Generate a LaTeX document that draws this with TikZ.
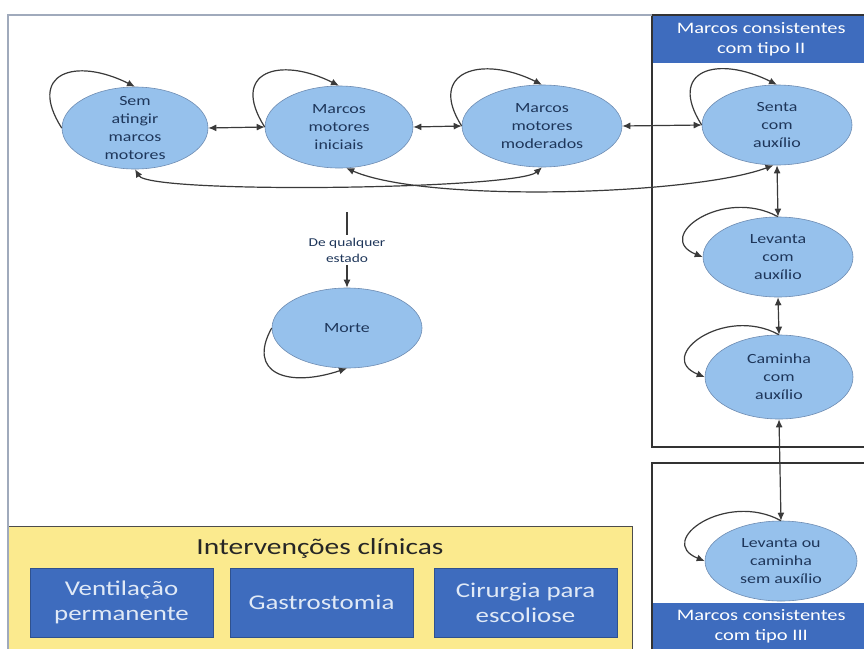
\documentclass[tikz,border=0pt]{standalone}
\usepackage{fontspec}
\setmainfont{Carlito}[FakeStretch=1.28]
\usetikzlibrary{arrows.meta,shapes.geometric}

\definecolor{statefill}{RGB}{150,193,236}
\definecolor{statedraw}{RGB}{110,140,178}
\definecolor{statetext}{RGB}{30,54,90}
\definecolor{panelblue}{RGB}{62,108,190}
\definecolor{boxtext}{RGB}{224,233,246}
\definecolor{intyellow}{RGB}{251,234,142}
\definecolor{framegray}{RGB}{160,170,188}
\definecolor{arrowgray}{RGB}{58,58,58}

\tikzset{
  state/.style={ellipse, draw=statedraw, fill=statefill, line width=0.6pt, inner sep=0pt},
  statelbl/.style={text=statetext, align=center, font=\fontsize{14}{18}\selectfont},
  link/.style={draw=arrowgray, line width=1.2pt},
  panelline/.style={draw=black!80, line width=1.4pt},
  panelhead/.style={fill=panelblue, text=white, align=center, font=\fontsize{16}{20}\selectfont},
  intbox/.style={fill=panelblue, draw=panelblue!75!black, line width=0.8pt, text=boxtext, align=center,
    minimum width=183pt, minimum height=69pt, inner sep=0pt, font=\fontsize{21}{25}\selectfont},
}

\begin{document}
\begin{tikzpicture}[x=1pt,y=1pt,yscale=-1,>={Latex[length=8pt,width=7pt]}]
\useasboundingbox[fill=white] (0,0) rectangle (864,648);

% painel tipo II
\node[panelhead, anchor=north west, minimum width=218pt, minimum height=48pt, inner sep=0pt] (headII) at (652,15) {Marcos consistentes\\com tipo II};
\draw[panelline] (652,15) rectangle (870,447);
% painel tipo III
\node[panelhead, anchor=north west, minimum width=218pt, minimum height=46pt, inner sep=0pt] (headIII) at (652,603) {Marcos consistentes\\com tipo III};
\draw[panelline] (652,463) rectangle (870,670);

% intervencoes
\draw[fill=intyellow, draw=black!70, line width=0.8pt] (8,526) rectangle (632,670);
\node[font=\fontsize{23}{27}\selectfont, text=black!85] (interv) at (320,548) {Intervenções clínicas};
\node[intbox] (vent) at (121.5,602.5) {Ventilação\\permanente};
\node[intbox] (gastro) at (321.5,602.5) {Gastrostomia};
\node[intbox] (cirurgia) at (525.5,602.5) {Cirurgia para\\escoliose};

% moldura
\draw[framegray, line width=1.5pt] (8,670) -- (8,15) -- (652,15);

% estados
\node[state, minimum width=146pt, minimum height=82pt, label={[statelbl]center:Sem\\atingir\\marcos\\motores}] (sem) at (135,128) {};
\node[state, minimum width=148pt, minimum height=82pt, label={[statelbl]center:Marcos\\motores\\iniciais}] (ini) at (339,127) {};
\node[state, minimum width=160pt, minimum height=82pt, label={[statelbl]center:Marcos\\motores\\moderados}] (mod) at (542,126) {};
\node[state, minimum width=150pt, minimum height=80pt, label={[statelbl]center:Senta\\com\\auxílio}] (sen) at (777,125) {};
\node[state, minimum width=150pt, minimum height=80pt, label={[statelbl]center:Levanta\\com\\auxílio}] (lev) at (778,257) {};
\node[state, minimum width=148pt, minimum height=84pt, label={[statelbl]center:Caminha\\com\\auxílio}] (cam) at (779,377) {};
\node[state, minimum width=152pt, minimum height=80pt, label={[statelbl]center:Levanta ou\\caminha\\sem auxílio}] (low) at (781,561) {};
\node[state, minimum width=150pt, minimum height=80pt, label={[statelbl]center:Morte}] (mor) at (347,328) {};

% de qualquer estado
\coordinate (anystate) at (347,212);
\node[text=statetext, align=center, font=\fontsize{12}{16}\selectfont, inner sep=3pt] (qq) at (347,250) {De qualquer\\estado};
\draw[link] (anystate) -- (qq.north);
\draw[link,->] (qq.south) -- (mor.north);

% transicoes horizontais
\draw[link,<->] (sem.east) -- (ini.west);
\draw[link,<->] (ini.east) -- (mod.west);
\draw[link,<->] (mod.east) -- (sen.west);

% transicoes verticais
\draw[link,<->] (sen.south) -- (lev.north);
\draw[link,<->] (lev.south) -- (cam.north);
\draw[link,<->] (cam.south) -- (low.north);

% curvas longas
\draw[link,<->] (sem.south) .. controls +(15,25) and +(-25,22) .. (mod.south);
\draw[link,<->] (ini.280) .. controls +(80,35) and +(-80,30) .. (sen.265);

% lacos
\draw[link,->] (sem.west) .. controls +(-35,-55) and +(-60,-30) .. (sem.north);
\draw[link,->] (ini.west) .. controls +(-35,-55) and +(-60,-30) .. (ini.north);
\draw[link,->] (mod.west) .. controls +(-35,-55) and +(-60,-30) .. (mod.north);
\draw[link,->] (sen.west) .. controls +(-35,-55) and +(-60,-30) .. (sen.north);
\draw[link,->] (lev.north) .. controls +(-55,-30) and +(-50,-20) .. (lev.west);
\draw[link,->] (cam.north) .. controls +(-55,-30) and +(-50,-20) .. (cam.west);
\draw[link,->] (low.north) .. controls +(-55,-30) and +(-50,-20) .. (low.west);
\draw[link,->] (mor.west) .. controls +(-25,45) and +(-60,20) .. (mor.south);

\end{tikzpicture}
\end{document}
